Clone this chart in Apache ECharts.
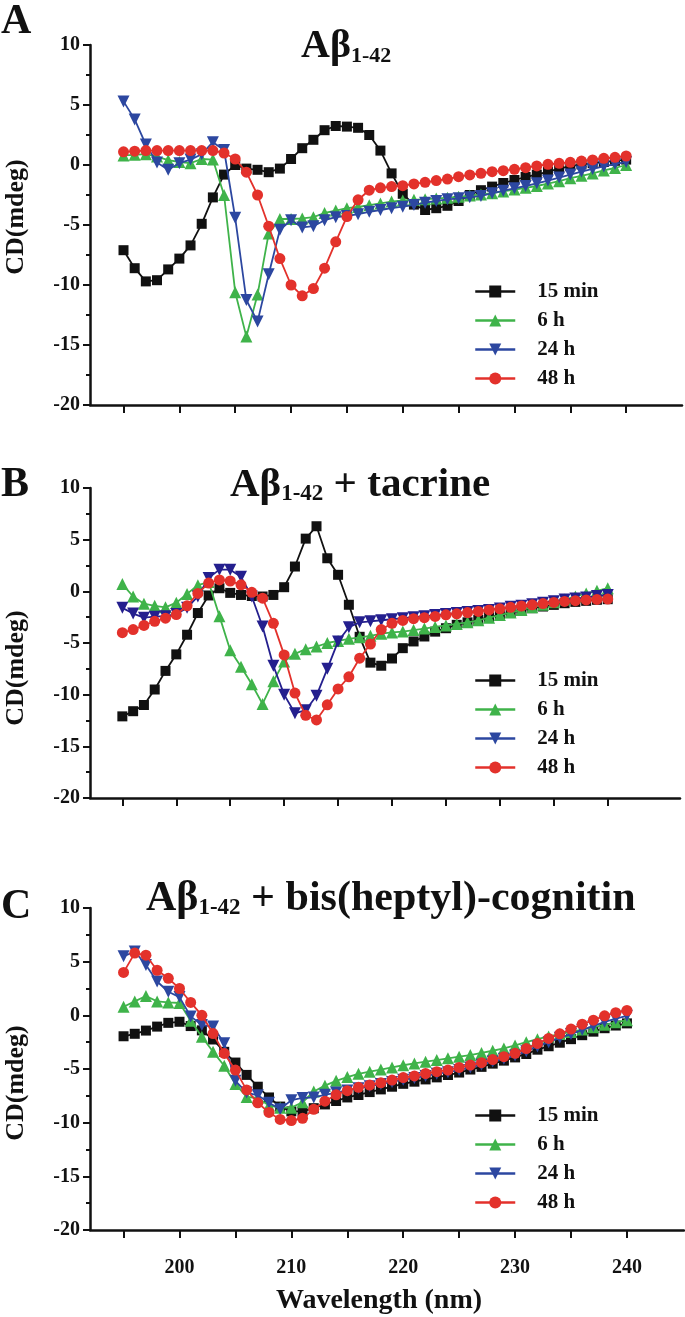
<!DOCTYPE html>
<html>
<head>
<meta charset="utf-8">
<script src="https://cdn.jsdelivr.net/npm/echarts@6/dist/echarts.min.js"></script>
<style>
html,body{margin:0;padding:0;background:#fff;}
#c{width:685px;height:1317px;}
</style>
</head>
<body>
<div id="c"></div>
<script>
// Wavelength (nm)
const wavelengths = [195,196,197,198,199,200,201,202,203,204,205,206,207,208,209,210,211,212,213,214,215,216,217,218,219,220,221,222,223,224,225,226,227,228,229,230,231,232,233,234,235,236,237,238,239,240];
const seriesNames = ['15 min','6 h','24 h','48 h'];
const yTicks = [-20,-15,-10,-5,0,5,10];
const xTickValues = [195,200,205,210,215,220,225,230,235,240];
const xLabelValues = [200,210,220,230,240];

// Panel A: Abeta 1-42
const A_15min = [-7.1,-8.6,-9.7,-9.6,-8.7,-7.8,-6.7,-4.9,-2.7,-0.8,0.0,-0.3,-0.4,-0.6,-0.3,0.5,1.4,2.1,2.9,3.25,3.2,3.1,2.5,1.2,-0.7,-2.4,-3.3,-3.75,-3.6,-3.4,-3.0,-2.5,-2.1,-1.8,-1.5,-1.25,-1.0,-0.8,-0.55,-0.3,-0.1,0.05,0.15,0.25,0.35,0.45];
const A_6h = [0.8,0.85,0.9,0.7,0.4,0.25,0.15,0.5,0.45,-2.5,-10.6,-14.3,-10.8,-5.7,-4.5,-4.5,-4.45,-4.35,-4.0,-3.8,-3.6,-3.5,-3.35,-3.2,-3.05,-2.95,-2.9,-2.85,-2.8,-2.72,-2.65,-2.55,-2.45,-2.35,-2.2,-2.05,-1.9,-1.75,-1.55,-1.35,-1.1,-0.9,-0.7,-0.45,-0.25,0.0];
const A_24h = [5.3,3.8,1.7,0.2,-0.4,0.15,0.45,0.9,1.9,1.25,-4.4,-11.25,-13.05,-9.1,-5.4,-4.6,-5.2,-5.1,-4.6,-4.35,-4.25,-4.1,-3.9,-3.75,-3.6,-3.47,-3.33,-3.14,-3.0,-2.86,-2.78,-2.69,-2.58,-2.36,-2.14,-1.94,-1.75,-1.53,-1.3,-1.05,-0.8,-0.55,-0.33,-0.12,0.08,0.25];
const A_48h = [1.1,1.15,1.2,1.2,1.2,1.2,1.2,1.2,1.2,1.0,0.5,-0.6,-2.5,-5.1,-7.8,-10.0,-10.9,-10.3,-8.6,-6.4,-4.3,-2.9,-2.1,-1.9,-1.8,-1.72,-1.58,-1.44,-1.3,-1.17,-0.97,-0.83,-0.69,-0.56,-0.47,-0.36,-0.22,-0.08,0.06,0.14,0.22,0.33,0.42,0.56,0.64,0.75];

// Panel B: Abeta 1-42 + tacrine
const B_15min = [-12.1,-11.6,-11.0,-9.5,-7.7,-6.1,-4.2,-2.1,-0.4,0.3,-0.15,-0.35,-0.45,-0.5,-0.35,0.4,2.4,5.1,6.3,3.2,1.6,-1.3,-4.4,-6.9,-7.2,-6.5,-5.5,-4.85,-4.37,-3.9,-3.57,-3.24,-3.0,-2.76,-2.5,-2.27,-2.05,-1.85,-1.63,-1.47,-1.31,-1.15,-1.02,-0.92,-0.82,-0.76];
const B_6h = [0.7,-0.5,-1.2,-1.4,-1.55,-1.1,-0.25,0.6,0.9,-2.4,-5.7,-7.3,-9.0,-10.9,-8.7,-6.8,-6.05,-5.6,-5.35,-5.0,-4.8,-4.6,-4.45,-4.3,-4.1,-3.98,-3.89,-3.75,-3.6,-3.45,-3.3,-3.15,-3.0,-2.8,-2.55,-2.3,-2.05,-1.8,-1.55,-1.3,-1.05,-0.8,-0.5,-0.2,0.05,0.3];
const B_24h = [-1.6,-2.15,-2.55,-2.45,-2.4,-2.2,-1.6,-0.5,1.3,2.1,2.1,1.4,-0.5,-3.4,-7.2,-10.0,-11.8,-11.5,-10.1,-7.5,-4.85,-3.47,-3.0,-2.9,-2.8,-2.7,-2.6,-2.5,-2.4,-2.3,-2.2,-2.1,-2.0,-1.9,-1.8,-1.65,-1.5,-1.4,-1.25,-1.1,-0.95,-0.8,-0.7,-0.6,-0.45,-0.35];
const B_48h = [-4.0,-3.7,-3.3,-2.9,-2.6,-2.25,-1.4,-0.2,0.8,1.1,1.0,0.63,-0.1,-0.66,-3.1,-6.15,-9.85,-12.0,-12.45,-10.98,-9.45,-8.27,-6.47,-5.1,-3.7,-3.1,-2.82,-2.65,-2.55,-2.43,-2.27,-2.18,-2.05,-1.95,-1.8,-1.69,-1.55,-1.42,-1.3,-1.18,-1.07,-0.98,-0.9,-0.83,-0.78,-0.75];

// Panel C: Abeta 1-42 + bis(heptyl)-cognitin
const C_15min = [-1.95,-1.72,-1.42,-1.05,-0.7,-0.6,-1.0,-1.4,-2.25,-3.4,-4.4,-5.55,-6.65,-7.65,-8.5,-8.95,-8.95,-8.65,-8.3,-7.98,-7.65,-7.42,-7.15,-6.9,-6.65,-6.38,-6.18,-5.97,-5.78,-5.56,-5.33,-5.05,-4.8,-4.5,-4.22,-3.92,-3.6,-3.2,-2.88,-2.55,-2.22,-1.85,-1.52,-1.2,-0.95,-0.75];
const C_6h = [0.8,1.3,1.8,1.3,1.2,1.15,-0.5,-2.0,-3.4,-4.7,-6.4,-7.6,-7.7,-8.4,-8.6,-8.6,-8.1,-7.1,-6.55,-6.1,-5.75,-5.45,-5.25,-5.05,-4.85,-4.65,-4.48,-4.32,-4.17,-4.01,-3.85,-3.7,-3.5,-3.3,-3.08,-2.8,-2.5,-2.22,-1.97,-1.75,-1.55,-1.33,-1.1,-0.88,-0.65,-0.45];
const C_24h = [5.5,5.95,4.7,3.15,2.2,1.7,-0.1,-0.9,-1.05,-2.6,-6.1,-7.2,-7.45,-8.15,-8.75,-7.9,-7.7,-7.65,-7.4,-7.2,-7.0,-6.8,-6.6,-6.4,-6.2,-6.0,-5.85,-5.65,-5.45,-5.3,-5.1,-4.85,-4.6,-4.3,-4.05,-3.75,-3.35,-2.9,-2.5,-2.1,-1.75,-1.35,-1.0,-0.6,-0.3,-0.05];
const C_48h = [4.0,5.8,5.6,4.2,3.45,2.5,1.2,0.0,-1.7,-3.55,-5.1,-6.95,-8.15,-9.05,-9.7,-9.8,-9.6,-8.75,-8.0,-7.4,-7.02,-6.71,-6.49,-6.28,-6.03,-5.8,-5.65,-5.42,-5.25,-5.1,-4.85,-4.63,-4.41,-4.12,-3.85,-3.54,-3.1,-2.62,-2.15,-1.72,-1.28,-0.82,-0.45,-0.05,0.25,0.45];

const panels = [
  {vals:[A_15min,A_6h,A_24h,A_48h], blue:'#2c47a0'},
  {vals:[B_15min,B_6h,B_24h,B_48h], blue:'#241f8e'},
  {vals:[C_15min,C_6h,C_24h,C_48h], blue:'#2c47a0'}
];

const FONT = '"Liberation Serif", "Times New Roman", serif';
const INK = '#111';

const styles = [
  {color:'#111111', symbol:'rect', size:10, rotate:0},
  {color:'#3fb34a', symbol:'triangle', size:12, rotate:0},
  {color:null, symbol:'triangle', size:12, rotate:180},
  {color:'#e3312b', symbol:'circle', size:11, rotate:0}
];

const grids = [
  {left:90, top:45, right:3, height:360},
  {left:90, top:488, right:5, height:310},
  {left:90, top:908, right:1, height:322}
];
const xMax = [245, 246.7, 245.1];

const xAxes = grids.map((g,i)=>({
  type:'value', gridIndex:i, min:192, max:xMax[i],
  axisLine:{show:true, onZero:false, lineStyle:{color:INK, width:2.5}},
  axisTick:{show:true, length:8, lineStyle:{color:INK, width:2}, customValues:xTickValues},
  axisLabel:{show:i===2, customValues:xLabelValues, color:INK, fontFamily:FONT, fontWeight:'bold', fontSize:20, margin:28},
  splitLine:{show:false}
}));

const yAxes = grids.map((g,i)=>({
  type:'value', gridIndex:i, min:yTicks[0], max:yTicks[yTicks.length-1], interval:5,
  axisLine:{show:true, lineStyle:{color:INK, width:2.5}},
  axisTick:{show:true, length:7, lineStyle:{color:INK, width:2}},
  minorTick:{show:true, splitNumber:2, length:4, lineStyle:{color:INK, width:2}},
  axisLabel:{color:INK, fontFamily:FONT, fontWeight:'bold', fontSize:20, margin:10},
  splitLine:{show:false}
}));

const series = [];
panels.forEach((p,i)=>{
  p.vals.forEach((vals,k)=>{
    const st = styles[k];
    const col = st.color || p.blue;
    series.push({
      name: seriesNames[k], type:'line', xAxisIndex:i, yAxisIndex:i,
      data: wavelengths.map((w,j)=>[w, vals[j]]),
      symbol: st.symbol, symbolSize: st.size, symbolRotate: st.rotate,
      showAllSymbol:true,
      lineStyle:{color:col, width:1.8},
      itemStyle:{color:col},
      z: 2+k, animation:false
    });
  });
});

const legendTops = [281, 670, 1105];
const legends = legendTops.map(t=>({
  orient:'vertical', left:474, top:t, itemWidth:40, itemHeight:15, itemGap:8,
  selectedMode:false, data:seriesNames, padding:0,
  lineStyle:{width:2.5},
  textStyle:{color:INK, fontFamily:FONT, fontWeight:'bold', fontSize:21, lineHeight:20, padding:[0,0,0,17]}
}));

function richFor(size){
  return {
    m:{fontFamily:FONT, fontWeight:'bold', fontSize:size, lineHeight:size, color:INK},
    s:{fontFamily:FONT, fontWeight:'bold', fontSize:Math.round(size*0.55), lineHeight:14, color:INK, verticalAlign:'bottom'}
  };
}
const titles = [
  {text:'{m|Aβ}{s|1-42}', left:301, top:27, padding:0, textStyle:{rich:richFor(40)}},
  {text:'{m|Aβ}{s|1-42}{m| + tacrine}', left:230, top:465, padding:0, textStyle:{rich:richFor(41)}},
  {text:'{m|Aβ}{s|1-42}{m| + bis(heptyl)-cognitin}', left:146, top:878, padding:0, textStyle:{rich:richFor(42)}}
];

const letterFont = 'bold 42px ' + FONT;
const labelFont = 'bold 26px ' + FONT;
const graphic = [
  {type:'text', x:1, y:22, style:{text:'A', font:letterFont, fill:INK, textVerticalAlign:'middle'}},
  {type:'text', x:1, y:485, style:{text:'B', font:letterFont, fill:INK, textVerticalAlign:'middle'}},
  {type:'text', x:1, y:907, style:{text:'C', font:letterFont, fill:INK, textVerticalAlign:'middle'}},
  {type:'text', x:16, y:217, rotation:Math.PI/2, style:{text:'CD(mdeg)', font:labelFont, fill:INK, textAlign:'center', textVerticalAlign:'middle'}},
  {type:'text', x:16, y:668, rotation:Math.PI/2, style:{text:'CD(mdeg)', font:labelFont, fill:INK, textAlign:'center', textVerticalAlign:'middle'}},
  {type:'text', x:16, y:1083, rotation:Math.PI/2, style:{text:'CD(mdeg)', font:labelFont, fill:INK, textAlign:'center', textVerticalAlign:'middle'}},
  {type:'text', x:379, y:1301, style:{text:'Wavelength (nm)', font:'bold 28px ' + FONT, fill:INK, textAlign:'center', textVerticalAlign:'middle'}}
];

const chart = echarts.init(document.getElementById('c'), null, {renderer:'canvas'});
chart.setOption({
  backgroundColor:'#fff',
  animation:false,
  title:titles,
  grid:grids,
  xAxis:xAxes,
  yAxis:yAxes,
  legend:legends,
  series:series,
  graphic:graphic
});
</script>
</body>
</html>
